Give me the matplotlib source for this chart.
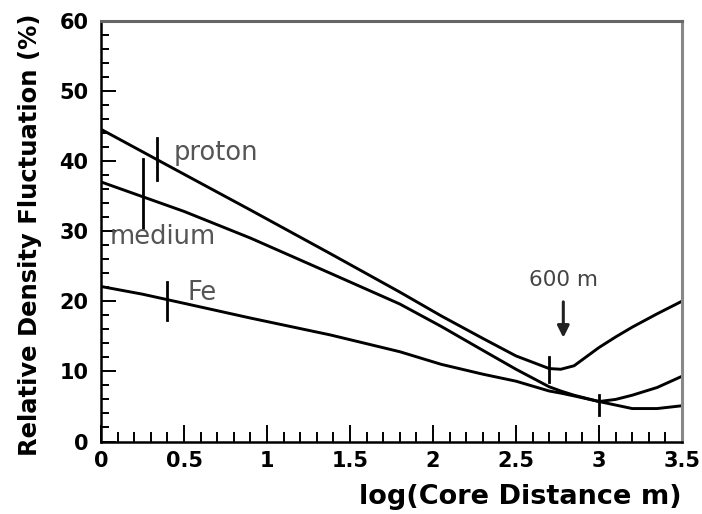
import matplotlib.pyplot as plt
from matplotlib.ticker import MultipleLocator

# log10(core distance / m)
logR = [0, 0.25, 0.5, 0.9, 1.38, 1.8, 2.05, 2.3, 2.5, 2.7, 2.77, 2.85, 3.0, 3.1, 3.2, 3.35, 3.5]

# relative density fluctuation (%)
proton = [44.5, 41.3, 38.1, 33.0, 26.8, 21.3, 17.9, 14.7, 12.2, 10.4, 10.3, 10.8, 13.4, 14.9, 16.3, 18.2, 20.0]
medium = [37.0, 34.9, 32.8, 29.0, 24.0, 19.6, 16.4, 13.0, 10.3, 7.8, 7.2, 6.6, 5.7, 6.0, 6.6, 7.7, 9.3]
iron   = [22.1, 21.0, 19.7, 17.6, 15.2, 12.8, 11.0, 9.6, 8.6, 7.2, 6.9, 6.5, 5.7, 5.2, 4.7, 4.7, 5.1]

# vertical marks on the curves: (x, ylow, yhigh)
marks = [(0.34, 37.3, 43.2), (0.25, 30.4, 40.2), (0.40, 17.3, 22.7),
         (2.70, 8.5, 12.1), (3.00, 3.8, 6.6)]

# curve labels: (text, x, y)
labels = [("proton", 0.44, 41.1), ("medium", 0.05, 29.2), ("Fe", 0.52, 21.2)]

plt.rcParams['font.family'] = ['DejaVu Sans']

fig = plt.figure(figsize=(7.02, 5.14), dpi=100)
ax = fig.add_axes([0.1439, 0.141, 0.8276, 0.819])

for series in [proton, medium, iron]:
    ax.plot(logR, series, color="black", lw=2.1, solid_capstyle="round")

for xm, y0, y1 in marks:
    ax.plot([xm, xm], [y0, y1], color="black", lw=2.0)

for txt, xt, yt in labels:
    ax.text(xt, yt, txt, fontsize=18.5, color="#555555", ha="left", va="center")

ax.text(2.785, 23.0, "600 m", fontsize=15.5, color="#444444", ha="center", va="center")
ax.annotate("", xy=(2.785, 14.4), xytext=(2.785, 20.3),
            arrowprops=dict(arrowstyle="-|>,head_width=0.35,head_length=0.7",
                            color="#222222", lw=2.2))

ax.set_xlim(0, 3.5)
ax.set_ylim(0, 60)
ax.xaxis.set_major_locator(MultipleLocator(0.5))
ax.xaxis.set_minor_locator(MultipleLocator(0.1))
ax.yaxis.set_major_locator(MultipleLocator(10))
ax.yaxis.set_minor_locator(MultipleLocator(2))
ax.xaxis.set_major_formatter(plt.FuncFormatter(lambda v, p: ("%g" % v)))

ax.tick_params(which="both", direction="in", top=False, right=False, width=1.4)
ax.tick_params(axis="x", which="major", length=12, pad=7, labelsize=15)
ax.tick_params(axis="x", which="minor", length=7)
ax.tick_params(axis="y", which="major", length=11, pad=9, labelsize=15)
ax.tick_params(axis="y", which="minor", length=6)
for lab in ax.get_xticklabels() + ax.get_yticklabels():
    lab.set_fontweight("bold")

ax.spines["left"].set_linewidth(1.8)
ax.spines["bottom"].set_linewidth(1.8)
ax.spines["top"].set_color("#666666")
ax.spines["right"].set_color("#888888")
for s in ["top", "right"]:
    ax.spines[s].set_linewidth(2.2)

fig.text(682 / 702, 1 - 497 / 514, "log(Core Distance m)", fontsize=19.5, fontweight="bold",
         ha="right", va="center")
fig.text(30 / 702, 1 - 235 / 514, "Relative Density Fluctuation (%)", fontsize=17.5,
         fontweight="bold", rotation=90, ha="center", va="center")

fig.savefig("out.png", dpi=100)
